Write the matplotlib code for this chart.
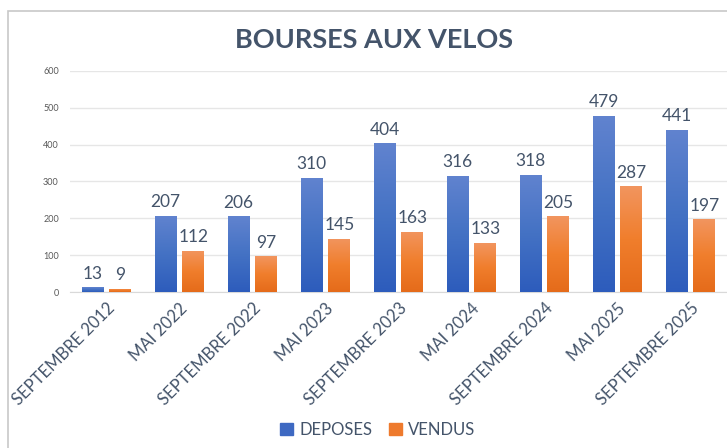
import matplotlib.pyplot as plt
import numpy as np
from matplotlib.colors import LinearSegmentedColormap
from matplotlib.patches import Rectangle

# Data
sessions = ["SEPTEMBRE 2012", "MAI 2022", "SEPTEMBRE 2022", "MAI 2023", "SEPTEMBRE 2023",
            "MAI 2024", "SEPTEMBRE 2024", "MAI 2025", "SEPTEMBRE 2025"]
deposes = [13, 207, 206, 310, 404, 316, 318, 479, 441]
vendus = [9, 112, 97, 145, 163, 133, 205, 287, 197]
yticks = [0, 100, 200, 300, 400, 500, 600]

plt.rcParams['font.family'] = ['Lato', 'DejaVu Sans']
text_col = "#44546a"

fig = plt.figure(figsize=(7.27, 4.48), dpi=100)
ax = fig.add_axes([70 / 727, 156 / 448, 657 / 727, (377 - 156) / 448])

# gray frame around the chart
fig.patches.append(Rectangle((8 / 727, -0.1), 1.2, (448 - 11) / 448 + 0.1,
                             transform=fig.transFigure, fill=False,
                             edgecolor="#c8c8c8", linewidth=1.2))

x = np.arange(len(sessions))
w = 0.30
off = 0.19

blue_cmap = LinearSegmentedColormap.from_list("b", ["#2d5cbc", "#4472c4", "#6183cf"])
orange_cmap = LinearSegmentedColormap.from_list("o", ["#e56b1a", "#f07e2c", "#f2955f"])
grad = np.linspace(0, 1, 256).reshape(-1, 1)


def gradient_bars(xpos, vals, cmap):
    bars = ax.bar(xpos, vals, w, color="none", edgecolor="none", zorder=3)
    for b in bars:
        x0, h = b.get_x(), b.get_height()
        im = ax.imshow(grad, extent=[x0, x0 + w, 0, h], origin="lower",
                       aspect="auto", cmap=cmap, zorder=3)
        im.set_clip_path(b)
    for xi, v in zip(xpos, vals):
        ax.annotate(str(v), (xi, v), xytext=(0, 4), textcoords="offset points",
                    ha="center", va="bottom", fontsize=12.5, color=text_col)
    return bars


gradient_bars(x - off, deposes, blue_cmap)
gradient_bars(x + off, vendus, orange_cmap)

ax.set_xlim(-0.5, len(sessions) - 0.5)
ax.set_ylim(0, 600)
ax.set_yticks(yticks)
ax.tick_params(axis="y", length=0, labelsize=6.5, labelcolor="#595959", pad=8)
ax.set_xticks(x)
ax.set_xticklabels(sessions, rotation=45, ha="right", rotation_mode="anchor",
                   fontsize=12, color=text_col)
ax.tick_params(axis="x", length=0, pad=6)

ax.grid(axis="y", color="#e6e6e6", linewidth=1)
ax.set_axisbelow(True)
for s in ["top", "right", "left"]:
    ax.spines[s].set_visible(False)
ax.spines["bottom"].set_color("#d9d9d9")

fig.text(374 / 727, 1 - 40 / 448, "BOURSES AUX VELOS", ha="center", va="center",
         fontsize=19.5, fontweight="bold", color=text_col)

handles = [Rectangle((0, 0), 1, 1, color="#3e69c2"), Rectangle((0, 0), 1, 1, color="#ee7a2d")]
fig.legend(handles, ["DEPOSES", "VENDUS"], loc="center", bbox_to_anchor=(378 / 727, 1 - 430 / 448),
           ncol=2, frameon=False, fontsize=12, labelcolor=text_col,
           handlelength=0.75, handleheight=0.75, handletextpad=0.4, columnspacing=1.0)

fig.savefig("out.png", dpi=100)
